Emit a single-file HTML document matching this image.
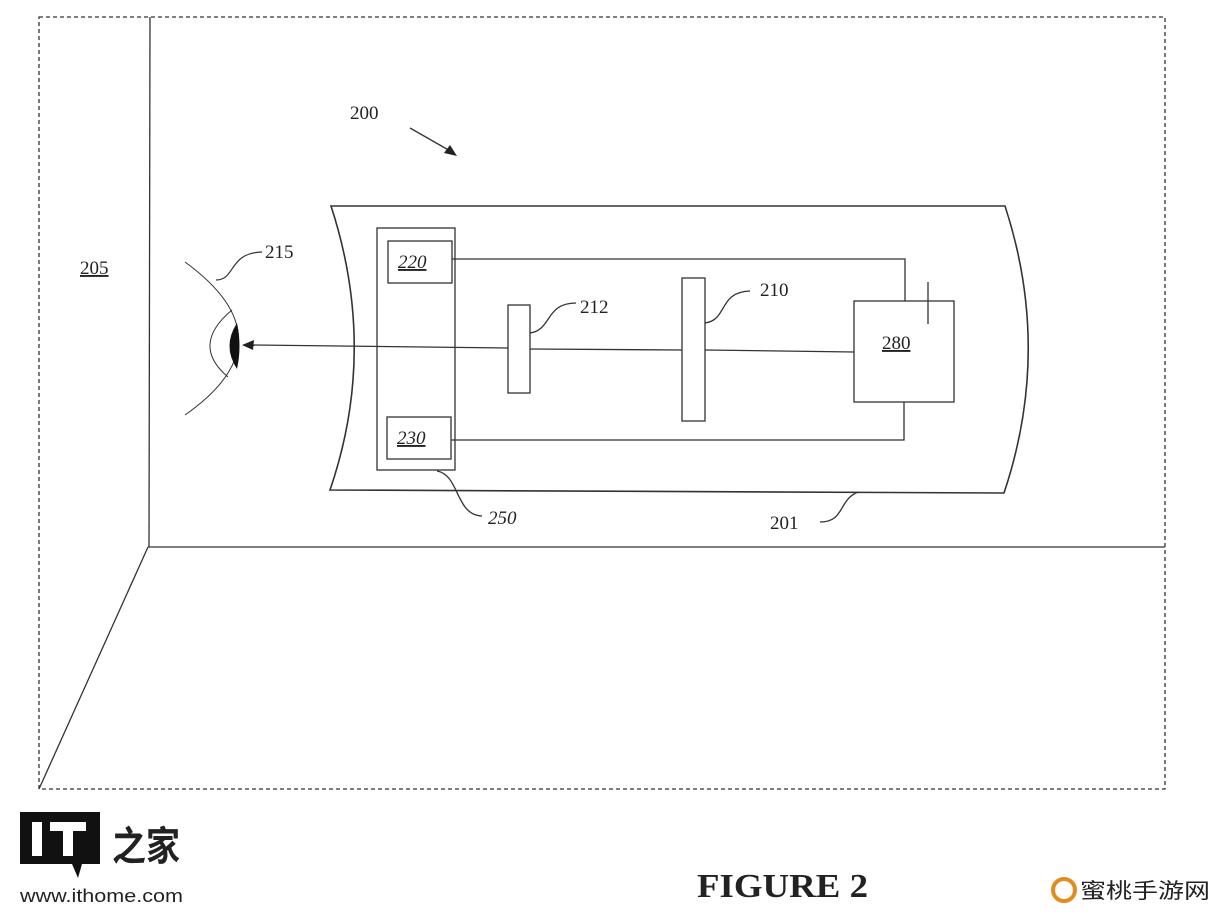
<!DOCTYPE html>
<html><head><meta charset="utf-8"><style>
html,body{margin:0;padding:0;background:#fff;}
svg{display:block}
text{font-family:"Liberation Serif",serif;fill:#222}
</style></head><body>
<svg width="1230" height="920" viewBox="0 0 1230 920" xmlns="http://www.w3.org/2000/svg">
<g fill="none" stroke="#333" stroke-width="1.3">
<rect x="39" y="17" width="1126" height="772" stroke-dasharray="4,3"/>
<line x1="150" y1="17" x2="149" y2="547"/>
<line x1="148" y1="547" x2="1165" y2="547"/>
<line x1="148" y1="547" x2="39" y2="789"/>
<path d="M331,206 L1005,206 Q1052,350 1004,493 L330,490 Q378,350 331,206 Z" stroke-width="1.6"/>
<rect x="377" y="228" width="78" height="242"/>
<rect x="388" y="241" width="64" height="42"/>
<rect x="387" y="417" width="64" height="42"/>
<polyline points="452,259 905,259 905,301"/>
<polyline points="451,440 904,440 904,402"/>
<rect x="854" y="301" width="100" height="101"/>
<line x1="928" y1="282" x2="928" y2="324"/>
<rect x="508" y="305" width="22" height="88" fill="#fff"/>
<rect x="682" y="278" width="23" height="143" fill="#fff"/>
<line x1="854" y1="352" x2="705" y2="350"/>
<line x1="682" y1="350" x2="530" y2="349"/>
<line x1="508" y1="348" x2="252" y2="345"/>
<path d="M185,262 Q292,340 185,415" stroke-width="1"/>
<path d="M232,310 Q190,345 228,377" stroke-width="1"/>
<path d="M216,280 C236,280 228,253 262,252" stroke-width="1.2"/>
<path d="M530,333 C552,330 545,303 576,303"/>
<path d="M705,323 C728,320 718,292 750,291"/>
<path d="M437,471 C460,475 455,515 482,516"/>
<path d="M858,492 C838,500 845,522 820,522"/>
<line x1="410" y1="128" x2="452" y2="152"/>
</g>
<polygon points="242,345 254,340 253,350" fill="#222"/>
<polygon points="457,156 444,153 450,145" fill="#222"/>
<path d="M237,323 Q222,346 237,369 Q242,346 237,323 Z" fill="#111"/>
<g font-size="19">
<text x="350" y="119">200</text>
<text x="80" y="274" text-decoration="underline">205</text>
<text x="265" y="258">215</text>
<text x="580" y="313">212</text>
<text x="760" y="296">210</text>
<text x="882" y="349" text-decoration="underline">280</text>
<text x="770" y="529">201</text>
<text x="398" y="268" font-style="italic" text-decoration="underline">220</text>
<text x="397" y="444" font-style="italic" text-decoration="underline">230</text>
<text x="488" y="524" font-style="italic">250</text>
</g>
<text x="697" y="897" font-size="34" font-weight="bold" fill="#111" textLength="171" lengthAdjust="spacingAndGlyphs">FIGURE 2</text>
<rect x="20" y="812" width="80" height="52" fill="#111"/>
<polygon points="72,864 82,864 78,878" fill="#111"/>
<rect x="32" y="822" width="10" height="34" fill="#fff"/>
<rect x="50" y="822" width="36" height="9" fill="#fff"/>
<rect x="63" y="822" width="10" height="34" fill="#fff"/>
<text x="112" y="860" font-size="40" style="font-family:'Noto Sans CJK SC',sans-serif;font-weight:bold" fill="#111" textLength="68" lengthAdjust="spacingAndGlyphs">之家</text>
<text x="20" y="902" font-size="18" style="font-family:'Liberation Sans',sans-serif" fill="#111" textLength="163" lengthAdjust="spacingAndGlyphs">www.ithome.com</text>
<circle cx="1064" cy="890" r="11" fill="none" stroke="#e58a1f" stroke-width="4"/>
<text x="1080" y="898" font-size="21" style="font-family:'Liberation Sans','Noto Sans CJK SC',sans-serif" fill="#333" textLength="130" lengthAdjust="spacingAndGlyphs">蜜桃手游网</text>
</svg>
</body></html>
